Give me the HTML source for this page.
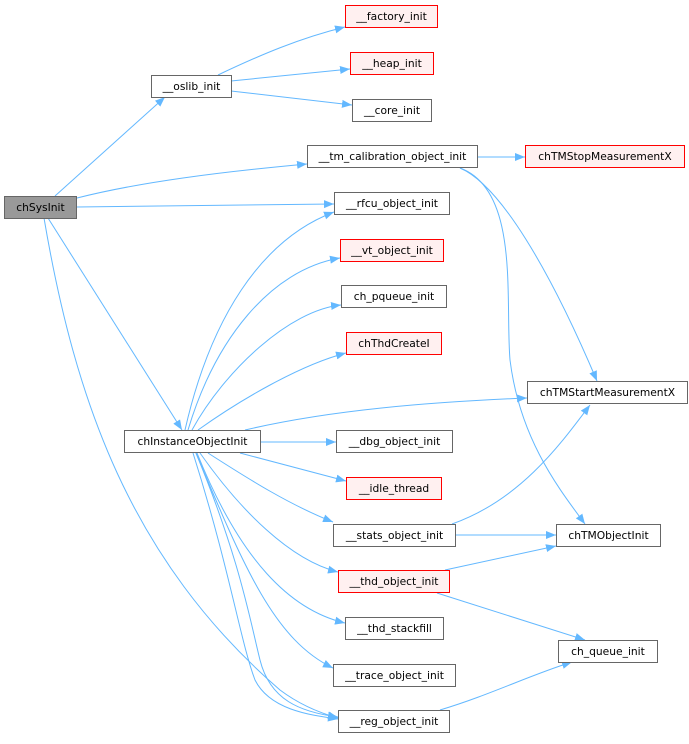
<!DOCTYPE html>
<html><head><meta charset="utf-8"><style>
html,body{margin:0;padding:0;background:#fff;}
svg text{font-family:"DejaVu Sans","Liberation Sans",sans-serif;font-size:10.7px;fill:#000;}
</style></head><body>
<svg width="689" height="739" viewBox="0 0 689 739" xmlns="http://www.w3.org/2000/svg">
<defs>
<marker id="a" viewBox="0 0 10 10" refX="10" refY="5" markerWidth="10" markerHeight="10" markerUnits="userSpaceOnUse" orient="auto">
<path d="M0,1 L10,5 L0,9 Z" fill="#63b8ff"/>
</marker>
</defs>
<g fill="none" stroke="#63b8ff" stroke-width="1" marker-end="url(#a)">
<path d="M55,196 L165,97"/>
<path d="M218,75 C260,55 300,38 345,27"/>
<path d="M231,81 L350,69"/>
<path d="M231,91 L352,105"/>
<path d="M77,198 C140,182 220,172 307,164"/>
<path d="M77,207 L334,204"/>
<path d="M48,218 L182,430"/>
<path d="M44,218 C75,400 130,560 280,690 C300,705 320,713 338,718"/>
<path d="M477,157 L525,157"/>
<path d="M460,168 C500,185 550,270 597,381"/>
<path d="M460,168 C520,190 505,300 510,360 C520,440 560,490 585,524"/>
<path d="M185,430 C210,320 260,240 334,212"/>
<path d="M188,430 C215,340 270,270 340,258"/>
<path d="M192,430 C225,370 290,310 341,305"/>
<path d="M198,430 C240,400 300,365 346,353"/>
<path d="M245,430 C330,410 430,402 527,398"/>
<path d="M260,442 L336,442"/>
<path d="M240,453 L346,481"/>
<path d="M208,453 C250,480 290,505 333,522"/>
<path d="M200,453 C240,510 290,560 338,572"/>
<path d="M197,453 C240,560 290,610 345,623"/>
<path d="M196,453 C245,570 275,640 333,668"/>
<path d="M196,453 C240,560 250,620 260,660 C270,700 300,712 338,717"/>
<path d="M193,453 C230,570 240,640 255,680 C270,710 310,715 338,719"/>
<path d="M452,524 C520,500 560,445 590,405"/>
<path d="M455,535 L556,535"/>
<path d="M445,570 L556,546"/>
<path d="M437,593 L585,640"/>
<path d="M440,710 C490,695 530,675 572,662"/>
</g>
<g stroke-width="1">
<rect x="4.5" y="196.5" width="72" height="22" fill="#999" stroke="#666"/>
<rect x="151.5" y="75.5" width="80" height="22" fill="#fff" stroke="#666"/>
<rect x="345.5" y="5.5" width="92" height="22" fill="#fff0f0" stroke="#f00"/>
<rect x="350.5" y="52.5" width="83" height="22" fill="#fff0f0" stroke="#f00"/>
<rect x="352.5" y="99.5" width="79" height="22" fill="#fff" stroke="#666"/>
<rect x="307.5" y="145.5" width="170" height="22" fill="#fff" stroke="#666"/>
<rect x="525.5" y="145.5" width="159" height="22" fill="#fff0f0" stroke="#f00"/>
<rect x="334.5" y="192.5" width="115" height="22" fill="#fff" stroke="#666"/>
<rect x="340.5" y="239.5" width="103" height="22" fill="#fff0f0" stroke="#f00"/>
<rect x="341.5" y="285.5" width="105" height="22" fill="#fff" stroke="#666"/>
<rect x="346.5" y="332.5" width="95" height="22" fill="#fff0f0" stroke="#f00"/>
<rect x="527.5" y="381.5" width="160" height="22" fill="#fff" stroke="#666"/>
<rect x="124.5" y="430.5" width="136" height="22" fill="#fff" stroke="#666"/>
<rect x="336.5" y="430.5" width="116" height="22" fill="#fff" stroke="#666"/>
<rect x="346.5" y="477.5" width="95" height="22" fill="#fff0f0" stroke="#f00"/>
<rect x="333.5" y="524.5" width="122" height="22" fill="#fff" stroke="#666"/>
<rect x="556.5" y="524.5" width="104" height="22" fill="#fff" stroke="#666"/>
<rect x="338.5" y="570.5" width="111" height="22" fill="#fff0f0" stroke="#f00"/>
<rect x="345.5" y="617.5" width="98" height="22" fill="#fff" stroke="#666"/>
<rect x="558.5" y="640.5" width="99" height="22" fill="#fff" stroke="#666"/>
<rect x="333.5" y="664.5" width="122" height="22" fill="#fff" stroke="#666"/>
<rect x="338.5" y="710.5" width="111" height="22" fill="#fff" stroke="#666"/>
</g>
<g text-anchor="middle">
<text x="40.5" y="211">chSysInit</text>
<text x="191.5" y="90">__oslib_init</text>
<text x="391.5" y="20">__factory_init</text>
<text x="392" y="67">__heap_init</text>
<text x="392" y="114">__core_init</text>
<text x="392.5" y="160">__tm_calibration_object_init</text>
<text x="605" y="160">chTMStopMeasurementX</text>
<text x="392" y="207">__rfcu_object_init</text>
<text x="392" y="254">__vt_object_init</text>
<text x="394" y="300">ch_pqueue_init</text>
<text x="394" y="347">chThdCreateI</text>
<text x="607.5" y="396">chTMStartMeasurementX</text>
<text x="192.5" y="445">chInstanceObjectInit</text>
<text x="394.5" y="445">__dbg_object_init</text>
<text x="394" y="492">__idle_thread</text>
<text x="394.5" y="539">__stats_object_init</text>
<text x="608.5" y="539">chTMObjectInit</text>
<text x="394" y="585">__thd_object_init</text>
<text x="394.5" y="632">__thd_stackfill</text>
<text x="608" y="655">ch_queue_init</text>
<text x="394.5" y="679">__trace_object_init</text>
<text x="394" y="725">__reg_object_init</text>
</g>
</svg>
</body></html>
